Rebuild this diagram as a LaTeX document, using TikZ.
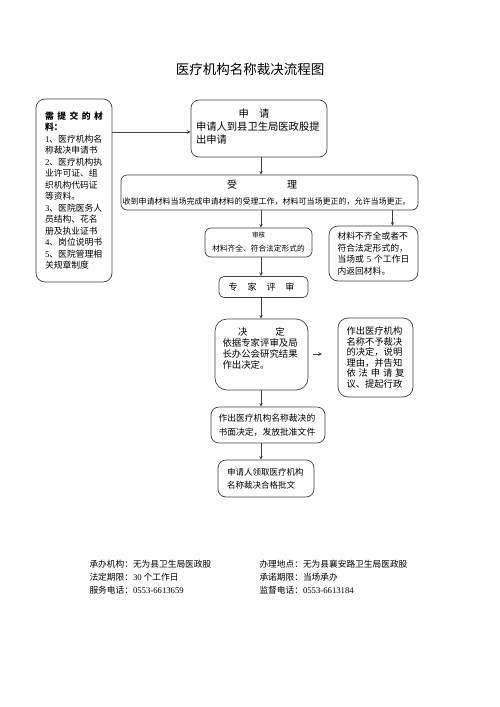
\documentclass[tikz,border=0pt]{standalone}
\usepackage{fontspec}
\setmainfont{Noto Sans CJK SC}
\newfontfamily\numfont{Liberation Serif}
\usetikzlibrary{calc}
\begin{document}
\begin{tikzpicture}[x=1pt,y=-1pt,line join=round,>=stealth]
            \tikzset{flowbox/.style={draw=black!75,line width=0.7pt,rounded corners=7pt,inner sep=0pt,align=left},
                     flowline/.style={->,draw=black!75,line width=0.7pt},
                     txt/.style 2 args={font=\fontsize{#1}{#2}\selectfont}}
            \fill[white] (0,0) rectangle (500,707);
            \useasboundingbox (0,0) rectangle (500,707);
            \node[txt={13.5}{13.5}] (title) at (250,69) {医疗机构名称裁决流程图};
            \node[flowbox,rounded corners=9pt,minimum width=76,minimum height=183,text width=58pt,txt={8.8}{11.5}] (need) at (74,190.5)
                {{\bfseries\makebox[\linewidth][s]{需\hfil 提\hfil 交\hfil 的\hfil 材}}\\{\bfseries 料：}\\
                 {\numfont 1}、医疗机构名\\称裁决申请书\\{\numfont 2}、医疗机构执\\业许可证、组\\织机构代码证\\等资料。\\
                 {\numfont 3}、医院医务人\\员结构、花名\\册及执业证书\\{\numfont 4}、岗位说明书\\{\numfont 5}、医院管理相\\关规章制度};
            \node[flowbox,rounded corners=8pt,minimum width=136,minimum height=57,text width=126pt,txt={10.3}{13}] (apply) at (259,128.5)
                {\makebox[\linewidth]{\hspace{-10pt}申\quad 请}\\申请人到县卫生局医政股提\\出申请\rule[-5pt]{0pt}{5pt}};
            \node[flowbox,rounded corners=6pt,minimum width=297,minimum height=35,text width=294pt,txt={8}{16.5}] (accept) at (269.5,192.5)
                {\makebox[\linewidth]{\fontsize{10}{10}\selectfont\hspace{-15pt}受\hspace{50pt}理}\\收到申请材料当场完成申请材料的受理工作，材料可当场更正的，允许当场更正。};
            \node[flowbox,rounded corners=6pt,minimum width=107,minimum height=29,align=center,txt={7.7}{14}] (check) at (258.5,242.5)
                {{\fontsize{6.5}{6.5}\selectfont 审核}\\材料齐全、符合法定形式的};
            \node[flowbox,rounded corners=9pt,minimum width=89,minimum height=55,text width=72pt,txt={8.8}{11.7}] (reject) at (373.5,253.5)
                {材料不齐全或者不\\符合法定形式的，\\当场或 {\numfont 5} 个工作日\\内返回材料。};
            \node[flowbox,rounded corners=5pt,minimum width=89,minimum height=21,txt={9}{9}] (review) at (263.5,287)
                {\hspace{-4pt}专\hspace{10pt}家\hspace{10pt}评\hspace{10pt}审};
            \node[flowbox,rounded corners=12pt,minimum width=93,minimum height=71,text width=78pt,txt={9.4}{10.8}] (decide) at (261.5,354.5)
                {\makebox[\linewidth]{决\hspace{28pt}定}\\依据专家评审及局\\长办公会研究结果\\作出决定。\rule[-13pt]{0pt}{13pt}};
            \node[flowbox,rounded corners=10pt,minimum width=75,minimum height=79,text width=58pt,txt={9.3}{10.5}] (refuse) at (375.5,357.5)
                {作出医疗机构\\名称不予裁决\\的决定，说明\\理由，并告知\\\makebox[\linewidth][s]{依\hfil 法\hfil 申\hfil 请\hfil 复}\\议、提起行政};
            \node[flowbox,rounded corners=8pt,minimum width=114,minimum height=36,text width=99pt,txt={8.8}{14}] (issue) at (268,425)
                {作出医疗机构名称裁决的\\书面决定，发放批准文件};
            \node[flowbox,rounded corners=8pt,minimum width=96,minimum height=37,text width=78pt,txt={8.5}{13}] (receive) at (266,478.5)
                {申请人领取医疗机构\\名称裁决合格批文};
            \coordinate (spine) at (261,0);
            \coordinate (branch) at (392.5,0);
            \coordinate (inlet) at (0,132);
            \coordinate (hintA) at (313,354);
            \coordinate (hintB) at (322,354);
            \draw[flowline] (need.east |- inlet) -- (apply.west |- inlet);
            \draw[flowline] (apply.south -| spine) -- (accept.north -| spine);
            \draw[flowline] (accept.south -| spine) -- (check.north -| spine);
            \draw[flowline] (accept.south -| branch) -- (reject.north -| branch);
            \draw[flowline] (check.south -| spine) -- (review.north -| spine);
            \draw[flowline] (review.south -| spine) -- (decide.north -| spine);
            \draw[flowline] (hintA) -- (hintB);
            \draw[flowline] (decide.south -| spine) -- (issue.north -| spine);
            \draw[flowline] (issue.south -| spine) -- (receive.north -| spine);
            \begin{scope}[txt={8.7}{8.7}]
                \node[anchor=west] (org) at (86,564) {承办机构：无为县卫生局医政股};
                \node[anchor=west] (term) at (86,577) {法定期限：{\numfont 30} 个工作日};
                \node[anchor=west] (phone) at (86,590) {服务电话：{\numfont 0553-6613659}};
                \node[anchor=west] (place) at (256,564) {办理地点：无为县襄安路卫生局医政股};
                \node[anchor=west] (promise) at (256,577) {承诺期限：当场承办};
                \node[anchor=west] (watch) at (256,590) {监督电话：{\numfont 0553-6613184}};
            \end{scope}
        \end{tikzpicture}
\end{document}
